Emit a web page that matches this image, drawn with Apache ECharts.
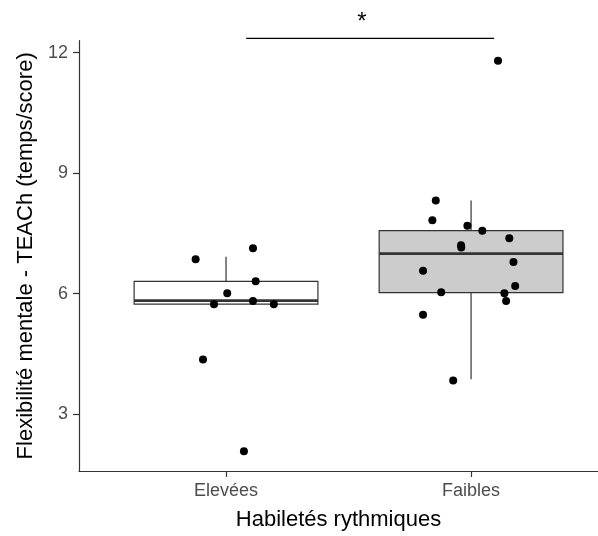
<!DOCTYPE html>
<html>
<head>
<meta charset="utf-8">
<script src="https://cdn.jsdelivr.net/npm/echarts@6/dist/echarts.min.js"></script>
<style>
  html, body { margin: 0; padding: 0; background: #fff; }
  #chart { width: 598px; height: 536px; }
</style>
</head>
<body>
<div id="chart"></div>
<script>
// groups on the x axis (positions 1 and 2)
const categories = ['Elevées', 'Faibles']
const yTicks = [3, 6, 9, 12]

// box stats per group: [x, q1, median, q3, lowerWhisker, upperWhisker]
const boxStats = [
  [1, 5.74, 5.83, 6.31, 5.74, 6.92],
  [2, 6.03, 7.00, 7.57, 3.87, 8.32]
]
const boxFills = ['#ffffff', '#cccccc']

// jittered points [x, y]
const pointsElevees = [
  [0.876, 6.86], [1.110, 7.13], [1.121, 6.31], [1.005, 6.01], [0.951, 5.74],
  [1.110, 5.82], [1.195, 5.74], [0.906, 4.36], [1.073, 2.08]
]
const pointsFaibles = [
  [1.856, 8.32], [1.842, 7.83], [1.985, 7.69], [2.046, 7.57], [2.156, 7.38],
  [1.959, 7.21], [1.960, 7.15], [2.173, 6.79], [1.804, 6.57], [2.180, 6.19],
  [1.878, 6.04], [2.136, 6.01], [2.143, 5.82], [1.804, 5.48], [1.927, 3.84],
  [2.110, 11.80]
]

// significance bracket: [xStart, xEnd, y] and label position [x, y]
const sigBar = [1.082, 2.094, 12.357]
const sigLabel = [1.555, 12.76]
const sigText = '*'

const chart = echarts.init(document.getElementById('chart'))

const boxWidth = 0.75

const renderBox = (params, api) => {
  const x = api.value(0)
  const q1 = api.value(1), med = api.value(2), q3 = api.value(3)
  const lo = api.value(4), hi = api.value(5)
  const tl = api.coord([x - boxWidth / 2, q3])
  const br = api.coord([x + boxWidth / 2, q1])
  const mL = api.coord([x - boxWidth / 2, med])
  const mR = api.coord([x + boxWidth / 2, med])
  const wTop = api.coord([x, hi])
  const wQ3 = api.coord([x, q3])
  const wBot = api.coord([x, lo])
  const wQ1 = api.coord([x, q1])
  const stroke = { stroke: '#333333', lineWidth: 1.2 }
  return {
    type: 'group',
    children: [
      { type: 'line', shape: { x1: wTop[0], y1: wTop[1], x2: wQ3[0], y2: wQ3[1] }, style: stroke },
      { type: 'line', shape: { x1: wBot[0], y1: wBot[1], x2: wQ1[0], y2: wQ1[1] }, style: stroke },
      {
        type: 'rect',
        shape: { x: tl[0], y: tl[1], width: br[0] - tl[0], height: br[1] - tl[1] },
        style: { fill: boxFills[params.dataIndex], stroke: '#333333', lineWidth: 1.2 }
      },
      { type: 'line', shape: { x1: mL[0], y1: mL[1], x2: mR[0], y2: mR[1] }, style: { stroke: '#333333', lineWidth: 2.6 } }
    ]
  }
}

const renderSig = (params, api) => {
  const a = api.coord([api.value(0), api.value(2)])
  const b = api.coord([api.value(1), api.value(2)])
  const t = api.coord(sigLabel)
  return {
    type: 'group',
    children: [
      { type: 'line', shape: { x1: a[0], y1: a[1], x2: b[0], y2: b[1] }, style: { stroke: '#000', lineWidth: 1.2 } },
      {
        type: 'text',
        x: t[0], y: t[1],
        style: { text: sigText, fill: '#000', font: '24px "Liberation Sans", Arial, sans-serif', align: 'center', verticalAlign: 'middle' }
      }
    ]
  }
}

const option = {
  animation: false,
  textStyle: { fontFamily: '"Liberation Sans", Arial, sans-serif' },
  // the panel runs past the right edge of the picture, so x max is cut at the edge
  grid: { left: 79, top: 40.7, right: 0, bottom: 64 },
  xAxis: {
    type: 'value',
    min: 0.4,
    max: 2.518,
    name: 'Habiletés rythmiques',
    nameLocation: 'middle',
    nameGap: 38,
    nameTextStyle: { color: '#000', fontSize: 22 },
    axisLine: { lineStyle: { color: '#333333', width: 1.2 } },
    axisTick: { show: true, length: 6, customValues: [1, 2], lineStyle: { color: '#333333', width: 1.2 } },
    axisLabel: {
      customValues: [1, 2],
      formatter: v => categories[Math.round(v) - 1],
      color: '#4d4d4d', fontSize: 18, margin: 11
    },
    splitLine: { show: false }
  },
  yAxis: {
    type: 'value',
    min: 1.587,
    max: 12.3,
    name: 'Flexibilité mentale - TEACh (temps/score)',
    nameLocation: 'middle',
    nameGap: 41,
    nameTextStyle: { color: '#000', fontSize: 22 },
    axisLine: { show: true, lineStyle: { color: '#333333', width: 1.2 } },
    axisTick: { show: true, length: 6, customValues: yTicks, lineStyle: { color: '#333333', width: 1.2 } },
    axisLabel: { customValues: yTicks, color: '#4d4d4d', fontSize: 18, margin: 11 },
    splitLine: { show: false }
  },
  series: [
    {
      type: 'custom',
      renderItem: renderBox,
      data: boxStats,
      encode: { x: 0, y: [1, 2, 3, 4, 5] },
      z: 1
    },
    {
      type: 'scatter',
      data: pointsElevees,
      symbolSize: 8,
      itemStyle: { color: '#000', opacity: 1 },
      z: 3
    },
    {
      type: 'scatter',
      data: pointsFaibles,
      symbolSize: 8,
      itemStyle: { color: '#000', opacity: 1 },
      z: 3
    },
    {
      type: 'custom',
      renderItem: renderSig,
      data: [sigBar],
      encode: { x: [0, 1], y: 2 },
      clip: false,
      z: 4
    }
  ]
}

chart.setOption(option)
</script>
</body>
</html>
